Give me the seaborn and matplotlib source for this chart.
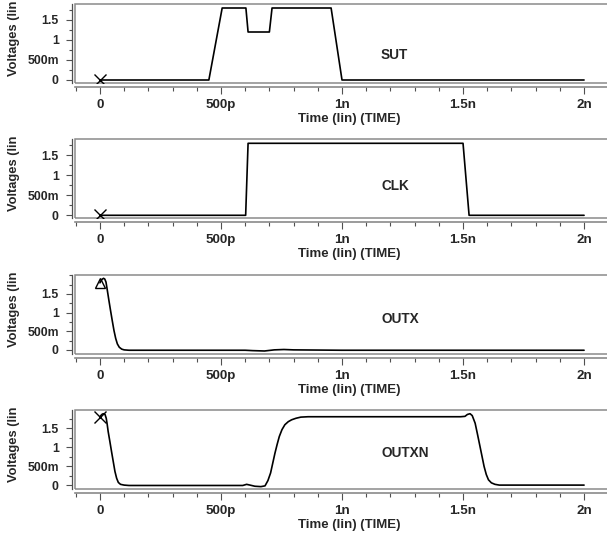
import matplotlib
matplotlib.use("Agg")
import matplotlib.pyplot as plt
from matplotlib.patches import Rectangle
from matplotlib.ticker import FixedLocator, FixedFormatter, MultipleLocator
import seaborn as sns
import pandas as pd

# ---------------- data (time in ps, voltage in V) ----------------
sut_t = [0, 450, 505, 603, 612, 700, 711, 955, 1000, 2000]
sut_v = [0, 0, 1.8, 1.8, 1.2, 1.2, 1.8, 1.8, 0, 0]

clk_t = [0, 602, 612, 1500, 1525, 2000]
clk_v = [0, 0, 1.8, 1.8, 0, 0]

outx_t = [0, 5, 10, 15, 20, 25, 30, 37, 44, 51, 58, 65, 72, 80, 90, 100, 120,
          300, 600, 630, 680, 720, 760, 800, 1000, 1500, 2000]
outx_v = [1.80, 1.86, 1.90, 1.92, 1.90, 1.82, 1.62, 1.33, 1.05, 0.78, 0.52,
          0.31, 0.16, 0.07, 0.02, 0.0, -0.01, -0.01, -0.01, -0.02, -0.03,
          0.0, 0.01, 0.0, -0.01, -0.01, -0.01]

outxn_t = [0, 5, 10, 16, 21, 26, 30, 34, 41, 48, 55, 62, 69, 76, 85, 100, 120,
           400, 590, 606, 620, 640, 665, 682, 694, 705, 714, 723, 732, 741,
           752, 764, 778, 792, 810, 830, 860, 1000, 1490, 1508, 1518, 1529,
           1538, 1550, 1560, 1570, 1579, 1587, 1596, 1605, 1617, 1632, 1650,
           2000]
outxn_v = [1.80, 1.84, 1.87, 1.88, 1.86, 1.76, 1.60, 1.41, 1.15, 0.88, 0.62,
           0.36, 0.18, 0.07, 0.02, 0.0, -0.01, -0.01, -0.01, 0.02, 0.0, -0.03,
           -0.04, -0.02, 0.12, 0.32, 0.58, 0.84, 1.07, 1.28, 1.46, 1.59, 1.67,
           1.72, 1.76, 1.79, 1.80, 1.80, 1.80, 1.81, 1.86, 1.88, 1.83, 1.63,
           1.33, 1.02, 0.74, 0.49, 0.28, 0.14, 0.06, 0.02, 0.0, 0.0]

signals = ["SUT", "CLK", "OUTX", "OUTXN"]
series_t = [sut_t, clk_t, outx_t, outxn_t]
series_v = [sut_v, clk_v, outx_v, outxn_v]
marker_styles = ["x", "x", "^", "x"]
marker_v = [0.0, 0.0, 1.8, 1.8]
ylims = [(-0.075, 1.9), (-0.075, 1.9), (-0.1, 2.02), (-0.1, 1.98)]

x_ticks = [0, 500, 1000, 1500, 2000]
x_labels = ["0", "500p", "1n", "1.5n", "2n"]
y_ticks = [0, 0.5, 1.0, 1.5]
y_labels = ["0", "500m", "1", "1.5"]
x_title = "Time (lin) (TIME)"
y_title = "Voltages (lin"

# ---------------- style ----------------
sns.set_style("ticks")
plt.rcParams["font.family"] = ["Liberation Sans", "DejaVu Sans"]
plt.rcParams["font.weight"] = "bold"

W, H = 607, 542
fig = plt.figure(figsize=(W / 100, H / 100), dpi=100)

left_px, right_px = 75, 609
box_h = 79
tops = [4, 139.3, 274.6, 409.9]
label_pos = [(381, 55), (381, 186), (381, 319), (381, 453)]

spine_col = "#505050"
box_col = "#8a8a8a"

for i, name in enumerate(signals):
    top = tops[i]
    ax = fig.add_axes([left_px / W, 1 - (top + box_h) / H,
                       (right_px - left_px) / W, box_h / H])
    df = pd.DataFrame({"t": series_t[i], "v": series_v[i]})
    sns.lineplot(data=df, x="t", y="v", ax=ax, color="black", lw=1.2,
                 sort=False, estimator=None)
    if marker_styles[i] == "^":
        ax.plot([0], [marker_v[i]], marker="^", ms=7, mfc="none", mec="black",
                mew=1.0, ls="none")
    else:
        ax.plot([0], [marker_v[i]], marker="x", ms=8, color="black", mew=1.0,
                ls="none")

    ax.set_xlim(-103, 2103)
    ax.set_ylim(*ylims[i])

    for s in ["top", "right"]:
        ax.spines[s].set_visible(False)
    ax.spines["left"].set_position(("outward", 2.2))
    ax.spines["bottom"].set_position(("outward", 3))
    ax.spines["left"].set_color(spine_col)
    ax.spines["bottom"].set_color(box_col)
    ax.spines["left"].set_linewidth(0.9)
    ax.spines["bottom"].set_linewidth(1.2)

    ax.add_patch(Rectangle((0, 0), 1, 1, transform=ax.transAxes, fill=False,
                           edgecolor=box_col, lw=1.1, clip_on=False))

    ax.xaxis.set_major_locator(FixedLocator(x_ticks))
    ax.xaxis.set_major_formatter(FixedFormatter(x_labels))
    ax.xaxis.set_minor_locator(MultipleLocator(100))
    ax.yaxis.set_major_locator(FixedLocator(y_ticks))
    ax.yaxis.set_major_formatter(FixedFormatter(y_labels))
    ax.yaxis.set_minor_locator(MultipleLocator(0.25))

    ax.tick_params(axis="x", which="major", length=5, width=0.8,
                   color=spine_col, pad=3.5, labelsize=9.6)
    ax.tick_params(axis="x", which="minor", length=3, width=0.8,
                   color=spine_col)
    ax.tick_params(axis="y", which="major", length=4.5, width=0.8,
                   color=spine_col, pad=5, labelsize=8.8)
    ax.tick_params(axis="y", which="minor", length=2.5, width=0.8,
                   color=spine_col)
    for lab in ax.get_xticklabels() + ax.get_yticklabels():
        lab.set_fontweight("bold")

    ax.set_xlabel(x_title, fontsize=9.5, fontweight="bold")
    ax.xaxis.label.set_va("center")
    ax.xaxis.set_label_coords((349 - left_px) / (right_px - left_px),
                              -36 / box_h)
    ax.set_ylabel("")

    ax.text((14 - left_px) / (right_px - left_px), 7 / box_h, y_title,
            rotation=90, ha="center", va="bottom", fontsize=9.3,
            fontweight="bold", transform=ax.transAxes)

    lx, ly = label_pos[i]
    fig.text(lx / W, 1 - ly / H, name, ha="left", va="center",
             fontsize=9.8, fontweight="bold")

fig.savefig("out.png", dpi=100)
